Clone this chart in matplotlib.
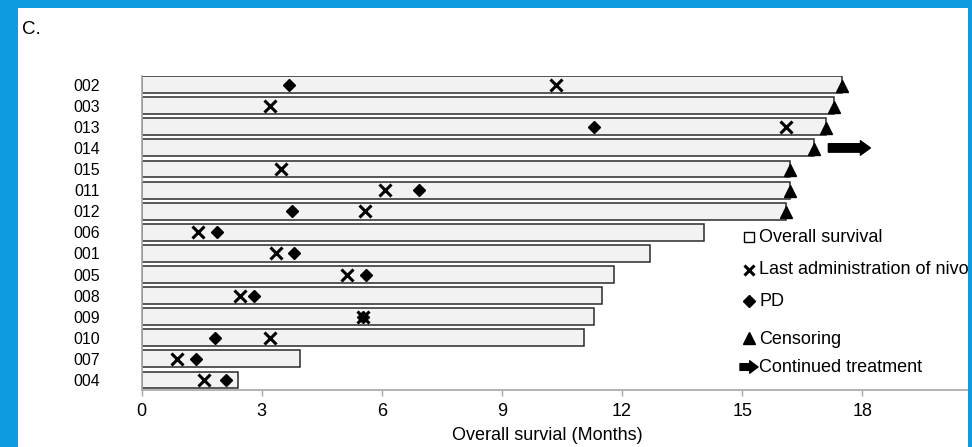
import matplotlib
matplotlib.use("Agg")
import matplotlib.pyplot as plt
from matplotlib.patches import Rectangle, FancyArrowPatch
from matplotlib.lines import Line2D

# Swimmer plot data (months)
patients = ["002", "003", "013", "014", "015", "011", "012", "006",
            "001", "005", "008", "009", "010", "007", "004"]
overall_survival = [17.5, 17.3, 17.1, 16.8, 16.2, 16.2, 16.1, 14.05,
                    12.7, 11.8, 11.5, 11.3, 11.05, 3.95, 2.4]
last_nivolumab = [10.35, 3.22, 16.1, None, 3.48, 6.08, 5.59, 1.40,
                  3.35, 5.13, 2.45, 5.52, 3.22, 0.88, 1.57]
progression = [3.68, None, 11.3, None, None, 6.94, 3.75, 1.88,
               3.80, 5.60, 2.80, 5.52, 1.84, 1.35, 2.11]
censored = [True, True, True, True, True, True, True, False,
            False, False, False, False, False, False, False]
continued_treatment = ["014"]
x_ticks = [0, 3, 6, 9, 12, 15, 18]

W, H = 972, 447
fig = plt.figure(figsize=(W / 100, H / 100), dpi=100, facecolor="white")
plt.rcParams["font.family"] = ["Liberation Sans", "DejaVu Sans"]

# axes: x=0 at 141.5 px, 40.05 px per month; bottom spine at y=390 px
x0_px, px_per_month = 141.5, 40.05
xmax = 21
ax = fig.add_axes([x0_px / W, (H - 390) / H,
                   xmax * px_per_month / W, 314 / H])
ax.set_facecolor("none")

n = len(patients)
ys = [n - 1 - i for i in range(n)]

ax.barh(ys, overall_survival, height=0.8, left=0, color="#f2f2f2",
        edgecolor="#2a2a2a", linewidth=1.1, zorder=2)

for y, xv in zip(ys, last_nivolumab):
    if xv is not None:
        ax.plot(xv, y, marker="x", color="black", markersize=8,
                markeredgewidth=2.2, zorder=4)
for y, pv in zip(ys, progression):
    if pv is not None:
        ax.plot(pv, y, marker="D", color="black", markersize=6.5, zorder=4)
for y, osv, c in zip(ys, overall_survival, censored):
    if c:
        ax.plot(osv, y - 0.05, marker="^", color="black", markersize=9,
                zorder=5, clip_on=False)
for pid in continued_treatment:
    i = patients.index(pid)
    y = ys[i]
    ax.annotate("", xy=(overall_survival[i] + 1.4, y),
                xytext=(overall_survival[i] + 0.35, y),
                arrowprops=dict(arrowstyle="simple,head_length=0.45,head_width=0.65,tail_width=0.38",
                                fc="black", ec="black", mutation_scale=16,
                                shrinkA=0, shrinkB=0),
                annotation_clip=False, zorder=5)

ax.set_xlim(0, xmax)
ax.set_ylim(-0.475, n - 1 + 0.41)
ax.set_xticks(x_ticks)
ax.set_xticklabels([str(t) for t in x_ticks], fontsize=13)
ax.set_yticks(ys)
ax.set_yticklabels(patients, fontsize=11.5)
ax.tick_params(axis="y", length=0, pad=30)
ax.tick_params(axis="x", length=4, width=1, color="#a6a6a6", pad=5,
               direction="out")
for s in ["top", "right"]:
    ax.spines[s].set_visible(False)
for s in ["left", "bottom"]:
    ax.spines[s].set_color("#a6a6a6")
    ax.spines[s].set_linewidth(1.2)


def fx(px):
    return px / W


def fy(py):
    return 1 - py / H


fig.text(fx(452), fy(435), "Overall survial (Months)", fontsize=13,
         ha="left", va="center")
fig.text(fx(22), fy(29), "C.", fontsize=13.5, ha="left", va="center")

# hand-made legend: symbol + label
legend_items = [
    ("s", "Overall survival", 237),
    ("x", "Last administration of nivolumab", 270),
    ("D", "PD", 301),
    ("^", "Censoring", 339),
    ("arrow", "Continued treatment", 367),
]
sym_x = 749
for sym, label, py in legend_items:
    if sym == "s":
        fig.add_artist(Line2D([fx(sym_x)], [fy(py)], marker="s",
                              markersize=7.5, mfc="white", mec="black",
                              mew=1.0, transform=fig.transFigure))
    elif sym == "x":
        fig.add_artist(Line2D([fx(sym_x)], [fy(py)], marker="x",
                              markersize=7, mec="black", mew=2.2,
                              transform=fig.transFigure))
    elif sym == "D":
        fig.add_artist(Line2D([fx(sym_x)], [fy(py)], marker="D",
                              markersize=6, color="black",
                              transform=fig.transFigure))
    elif sym == "^":
        fig.add_artist(Line2D([fx(sym_x)], [fy(py) + 0.002], marker="^",
                              markersize=8, color="black",
                              transform=fig.transFigure))
    else:
        fig.add_artist(FancyArrowPatch(
            (fx(740), fy(py)), (fx(758), fy(py)),
            transform=fig.transFigure,
            arrowstyle="simple,head_length=0.5,head_width=0.75,tail_width=0.4",
            mutation_scale=12, fc="black", ec="black",
            shrinkA=0, shrinkB=0))
    fig.text(fx(759), fy(py), label, fontsize=13, ha="left", va="center")

# blue frame
blue = "#109ADF"
for (x, y, w, h) in [(0, 0, 18, H), (0, 0, W, 8), (968, 0, 4, H)]:
    fig.add_artist(Rectangle((fx(x), fy(y + h)), w / W, h / H,
                             transform=fig.transFigure, color=blue,
                             zorder=20, linewidth=0))

fig.savefig("out.png", dpi=100, facecolor="white")
